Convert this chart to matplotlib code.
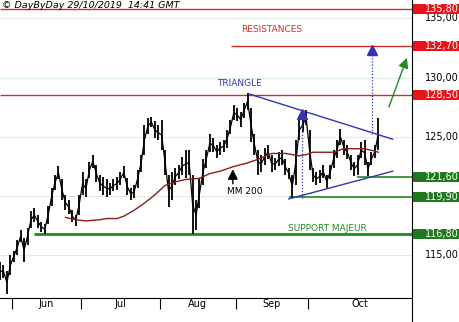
import matplotlib
matplotlib.use('Agg')
import matplotlib.pyplot as plt
import matplotlib.transforms as mtransforms
from matplotlib.patches import Rectangle
import numpy as np
import pandas as pd

plt.rcParams['font.family'] = ['DejaVu Sans']

# daily bars, 28/05/2019 -> 29/10/2019
dates = pd.bdate_range('2019-05-28', '2019-10-29')
high = [114.4, 114.2, 113.7, 115.0, 115.4, 116.3, 117.1, 116.5, 117.3, 118.7,
        119.0, 118.4, 117.8, 117.6, 119.2, 120.7, 121.8, 122.5, 121.4, 120.1,
        119.7, 118.8, 118.4, 120.1, 122.0, 121.4, 122.9, 123.5, 122.6, 121.8,
        121.6, 121.4, 121.1, 121.4, 121.6, 122.0, 122.5, 121.5, 120.7, 120.9,
        122.2, 123.5, 126.0, 126.6, 126.7, 126.3, 126.0, 126.4, 123.9, 121.8,
        122.0, 122.4, 122.6, 123.3, 123.9, 123.9, 121.8, 119.7, 121.4, 123.1,
        123.9, 125.2, 124.9, 124.3, 124.6, 124.7, 125.6, 126.4, 127.7, 127.4,
        127.1, 127.9, 128.7, 127.4, 125.2, 123.9, 123.5, 124.1, 124.3, 123.5,
        123.2, 123.7, 123.9, 123.1, 122.4, 121.8, 124.7, 126.4, 126.6, 127.3,
        125.6, 122.4, 122.0, 122.2, 122.6, 121.8, 122.6, 123.9, 124.7, 125.7,
        124.7, 124.3, 123.5, 122.9, 123.5, 124.6, 124.7, 122.9, 123.7, 124.3,
        126.6]
low = [112.9, 113.1, 111.7, 113.3, 114.4, 115.0, 116.1, 114.4, 115.9, 117.3,
       117.8, 117.3, 117.0, 116.8, 117.6, 119.2, 120.5, 121.4, 119.7, 118.8,
       118.5, 117.8, 117.5, 118.4, 120.1, 119.9, 121.5, 122.4, 121.2, 120.4,
       120.1, 119.9, 120.1, 120.4, 120.5, 120.9, 121.5, 120.1, 119.7, 119.8,
       120.7, 122.0, 123.5, 125.2, 125.8, 124.9, 124.7, 123.9, 121.8, 119.1,
       119.7, 120.9, 121.4, 121.8, 121.5, 121.8, 116.8, 117.1, 119.0, 120.9,
       122.4, 123.7, 123.7, 123.2, 123.5, 123.7, 124.1, 125.2, 126.4, 126.3,
       125.8, 126.6, 127.3, 124.6, 123.5, 121.8, 122.0, 122.6, 123.1, 122.0,
       122.2, 122.5, 122.6, 121.8, 121.4, 119.8, 120.9, 124.7, 125.4, 126.0,
       122.2, 121.2, 120.9, 121.1, 121.5, 120.7, 121.4, 122.4, 123.2, 124.3,
       123.5, 123.1, 122.2, 121.7, 121.8, 123.2, 122.6, 121.7, 122.6, 123.2,
       123.9]

# moyenne mobile 200 (read at sample dates)
mm_dates = ['2019-06-24', '2019-06-27', '2019-07-02', '2019-07-08', '2019-07-10',
            '2019-07-15', '2019-07-17', '2019-07-22', '2019-07-25', '2019-07-30',
            '2019-08-02', '2019-08-07', '2019-08-12', '2019-08-16', '2019-08-21',
            '2019-08-26', '2019-08-30', '2019-09-05', '2019-09-10', '2019-09-16',
            '2019-09-20', '2019-09-26', '2019-09-30', '2019-10-02', '2019-10-10',
            '2019-10-15', '2019-10-23', '2019-10-28', '2019-10-29']
mm_vals = [118.2, 118.0, 117.9, 118.0, 118.1, 118.1, 118.3, 118.8, 119.4, 120.1,
           120.9, 121.2, 121.4, 121.5, 121.9, 122.1, 122.5, 122.8, 123.1, 123.6,
           123.6, 123.4, 123.5, 123.7, 123.7, 124.0, 124.0, 123.8, 123.7]

res_levels = [135.80, 132.70, 128.50]
sup_levels = [121.60, 119.90, 116.80]
y_ticks = [135, 130, 125, 115]
months = ['Jun', 'Jul', 'Aug', 'Sep', 'Oct']

RED = '#d42a2a'
BOXRED = '#e8141a'
GREEN = '#238a23'
BOXGREEN = '#1f7a1f'
BLUE = '#3434b4'

pos = {d: i for i, d in enumerate(dates)}
def ix(d):
    return pos[pd.Timestamp(d)]

fig = plt.figure(figsize=(4.6, 3.22), dpi=100)
ax = fig.add_axes([0, 24 / 322, 412 / 460, 298 / 322])
ax.set_xlim(0, 119.8)
ax.set_ylim(111.39, 136.56)

for s in ['left', 'top']:
    ax.spines[s].set_visible(False)
ax.spines['right'].set_color('black')
ax.spines['bottom'].set_color('black')
ax.spines['right'].set_linewidth(0.8)
ax.spines['bottom'].set_linewidth(0.8)

for t in [115, 120, 125, 130, 135]:
    ax.axhline(t, color='#dcefdc', lw=0.8, zorder=0)

x = np.arange(len(dates))
hi = np.array(high)
lo = np.array(low)
ax.vlines(x, lo, hi, color='black', lw=1.3, zorder=3)
ax.plot(x, (hi + lo) / 2, color='black', lw=0.9, zorder=3)

mm_x = [ix(d) for d in mm_dates]
ax.plot(mm_x, mm_vals, color='#8e1c1c', lw=1.0, zorder=4)

# resistances / supports
xmax = ax.get_xlim()[1]
ax.hlines(res_levels[0], 0, xmax, color=RED, lw=1.0, zorder=2)
ax.hlines(res_levels[2], 0, xmax, color=RED, lw=1.0, zorder=2)
ax.hlines(res_levels[1], ix('2019-09-02') - 1.8, xmax, color=RED, lw=1.0, zorder=2)
ax.hlines(sup_levels[2], ix('2019-06-11'), xmax, color=GREEN, lw=2.0, zorder=2)
ax.hlines(sup_levels[1], ix('2019-09-23'), xmax, color=GREEN, lw=1.2, zorder=2)
ax.hlines(sup_levels[0], ix('2019-10-21') - 0.3, xmax, color=GREEN, lw=1.2, zorder=2)

# triangle
ax.plot([72.7, 114.2], [128.6, 124.8], color=BLUE, lw=1.0, zorder=5)
ax.plot([84.0, 114.2], [119.76, 122.1], color=BLUE, lw=1.0, zorder=5)
ax.vlines(87.8, 119.8, 126.5, color=BLUE, lw=0.9, linestyles=(0, (1, 1.5)), zorder=5)
ax.vlines(108.1, 125.2, 131.9, color=BLUE, lw=0.9, linestyles=(0, (1, 1.5)), zorder=5)
ax.plot([87.8], [126.95], marker='^', ms=7, color=BLUE, zorder=6)
ax.plot([108.1], [132.35], marker='^', ms=7, color=BLUE, zorder=6)

ax.annotate('', xy=(118.6, 131.9), xytext=(112.8, 127.3),
            arrowprops=dict(arrowstyle='-|>,head_length=0.6,head_width=0.3',
                            color=GREEN, lw=1.0), zorder=6)
ax.annotate('', xy=(67.7, 122.5), xytext=(67.7, 120.8),
            arrowprops=dict(arrowstyle='-|>,head_length=0.6,head_width=0.3',
                            color='black', lw=1.0), zorder=6)

ax.text(79, 134.1, 'RESISTANCES', color=RED, fontsize=6.5, ha='center', va='center')
ax.text(69.5, 129.5, 'TRIANGLE', color=BLUE, fontsize=6.5, ha='center', va='center')
ax.text(95.3, 117.3, 'SUPPORT MAJEUR', color=GREEN, fontsize=6.5, ha='center', va='center')
ax.text(71.2, 120.4, 'MM 200', color='black', fontsize=6.5, ha='center', va='center')

# right price scale
tr = mtransforms.blended_transform_factory(ax.transAxes, ax.transData)
box_h = 0.84
for t in y_ticks:
    ax.text(1.113, t, f'{t:.2f}'.replace('.', ','), transform=tr, fontsize=7,
            ha='right', va='center', clip_on=False)
for levels, col in [(res_levels, BOXRED), (sup_levels, BOXGREEN)]:
    for lv in levels:
        ax.add_patch(Rectangle((1.003, lv - box_h / 2), 0.114, box_h, transform=tr,
                               fc=col, ec='none', clip_on=False, zorder=7))
        ax.text(1.113, lv, f'{lv:.2f}'.replace('.', ','), transform=tr, fontsize=7,
                ha='right', va='center', color='white', clip_on=False, zorder=8)
ax.set_yticks([])

# months
starts = [i for i in range(1, len(dates)) if dates[i].month != dates[i - 1].month]
bounds = [s - 0.5 for s in starts] + [xmax + 10]
ax.set_xticks(bounds[:-1])
ax.set_xticklabels([])
ax.tick_params(axis='x', which='major', length=8, width=0.8, color='black')
centers = [(bounds[k] + min(bounds[k + 1], xmax)) / 2 for k in range(len(months))]
ax.set_xticks(centers, minor=True)
ax.set_xticklabels(months, minor=True, fontsize=7)
ax.tick_params(axis='x', which='minor', length=0, pad=1)

# right axis line down to the bottom
fig.add_artist(plt.Line2D([412 / 460, 412 / 460], [0, 24 / 322], color='black', lw=0.8))

fig.text(2 / 460, 1 - 6 / 322, '\u00a9 DayByDay 29/10/2019  14:41 GMT', fontsize=6.8,
         style='italic', ha='left', va='center')

fig.savefig('out.png', dpi=100)
